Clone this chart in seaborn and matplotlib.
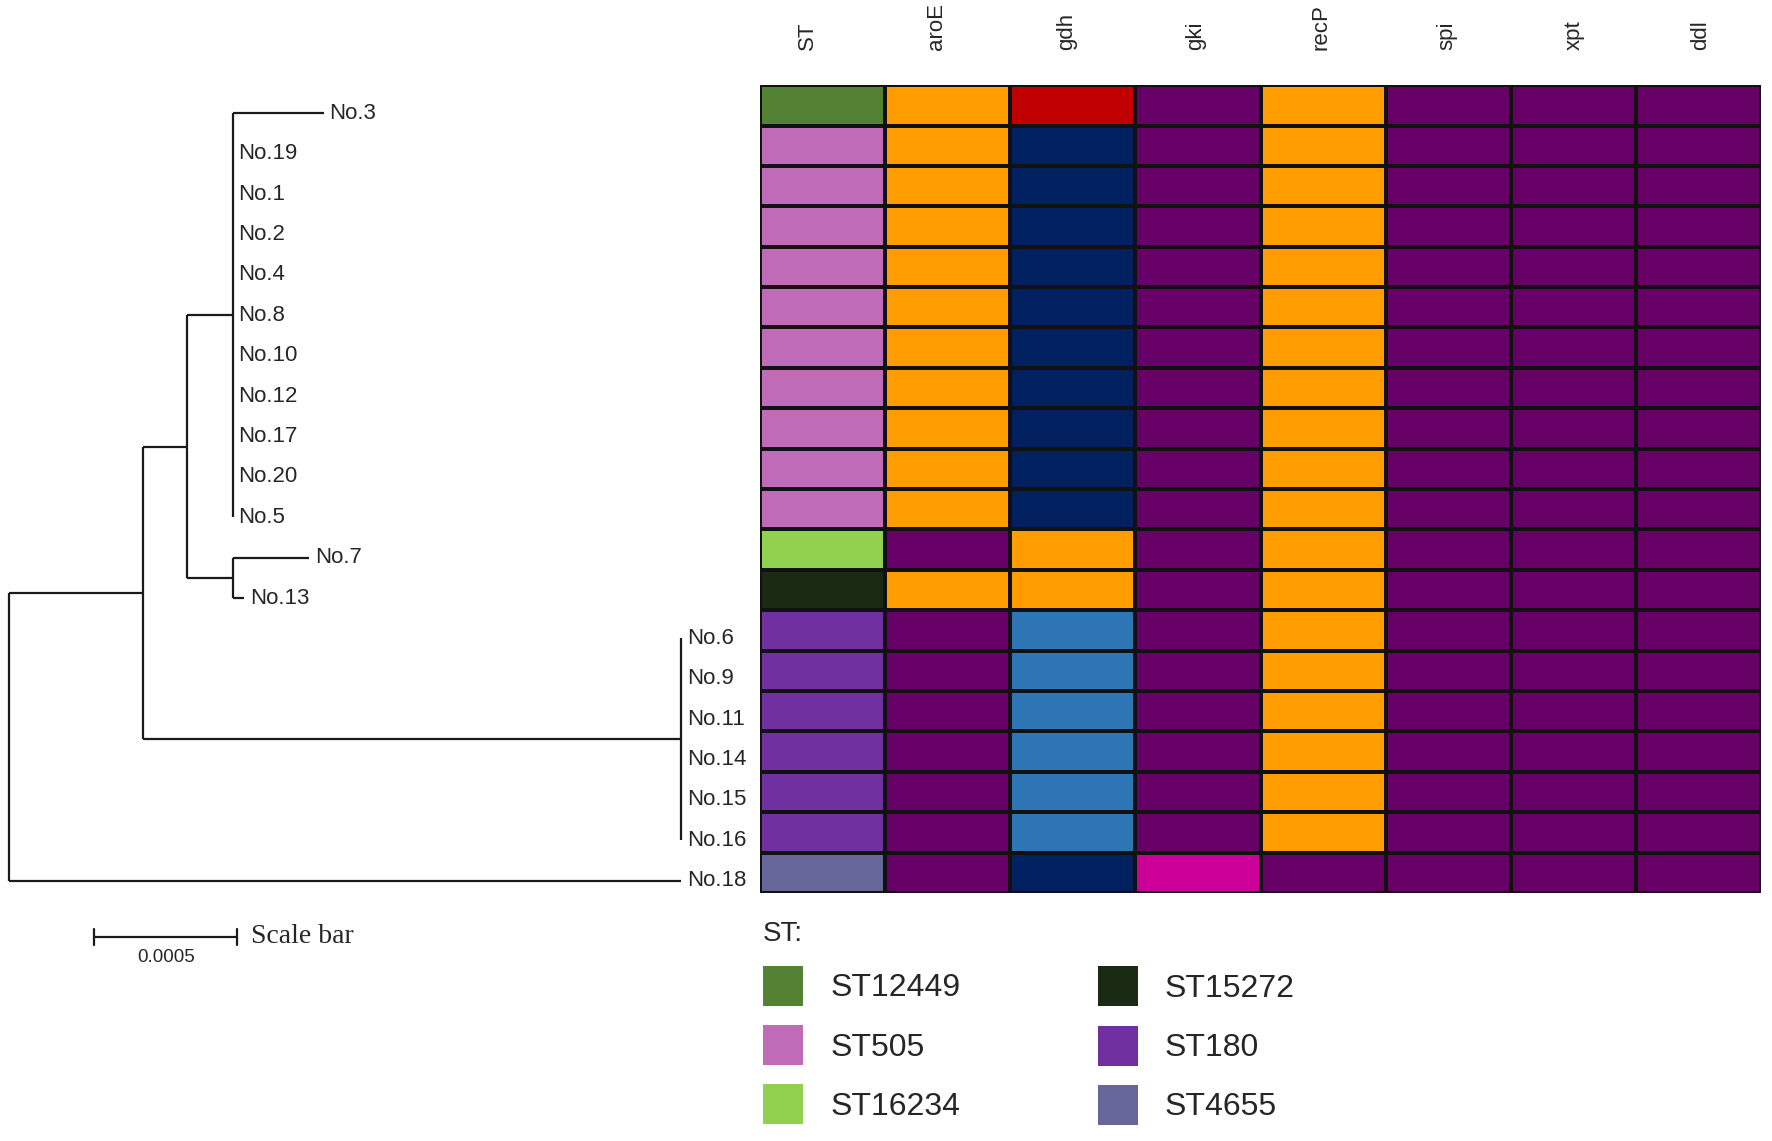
import matplotlib
matplotlib.use('Agg')
import matplotlib.pyplot as plt
from matplotlib.colors import ListedColormap
from matplotlib.patches import Patch
import seaborn as sns
import pandas as pd
import numpy as np

sns.set_style("white")
plt.rcParams['font.family'] = ['Liberation Sans', 'DejaVu Sans']

# ---- data ----
strains = ['No.3', 'No.19', 'No.1', 'No.2', 'No.4', 'No.8', 'No.10', 'No.12', 'No.17', 'No.20',
           'No.5', 'No.7', 'No.13', 'No.6', 'No.9', 'No.11', 'No.14', 'No.15', 'No.16', 'No.18']
genes = ['ST', 'aroE', 'gdh', 'gki', 'recP', 'spi', 'xpt', 'ddl']

st_type = ['ST12449', 'ST505', 'ST505', 'ST505', 'ST505', 'ST505', 'ST505', 'ST505', 'ST505', 'ST505',
           'ST505', 'ST16234', 'ST15272', 'ST180', 'ST180', 'ST180', 'ST180', 'ST180', 'ST180', 'ST4655']
# allele colour keys: O orange, R red, N navy, P purple, B blue, M magenta
aroE = ['O', 'O', 'O', 'O', 'O', 'O', 'O', 'O', 'O', 'O', 'O', 'P', 'O', 'P', 'P', 'P', 'P', 'P', 'P', 'P']
gdh = ['R', 'N', 'N', 'N', 'N', 'N', 'N', 'N', 'N', 'N', 'N', 'O', 'O', 'B', 'B', 'B', 'B', 'B', 'B', 'N']
gki = ['P', 'P', 'P', 'P', 'P', 'P', 'P', 'P', 'P', 'P', 'P', 'P', 'P', 'P', 'P', 'P', 'P', 'P', 'P', 'M']
recP = ['O', 'O', 'O', 'O', 'O', 'O', 'O', 'O', 'O', 'O', 'O', 'O', 'O', 'O', 'O', 'O', 'O', 'O', 'O', 'P']
spi = ['P', 'P', 'P', 'P', 'P', 'P', 'P', 'P', 'P', 'P', 'P', 'P', 'P', 'P', 'P', 'P', 'P', 'P', 'P', 'P']
xpt = ['P', 'P', 'P', 'P', 'P', 'P', 'P', 'P', 'P', 'P', 'P', 'P', 'P', 'P', 'P', 'P', 'P', 'P', 'P', 'P']
ddl = ['P', 'P', 'P', 'P', 'P', 'P', 'P', 'P', 'P', 'P', 'P', 'P', 'P', 'P', 'P', 'P', 'P', 'P', 'P', 'P']

st_legend = ['ST12449', 'ST505', 'ST16234', 'ST15272', 'ST180', 'ST4655']
st_colors = ['#548235', '#BF6BB7', '#92D050', '#1B2A13', '#7030A0', '#666699']
allele_keys = ['O', 'R', 'N', 'P', 'B', 'M']
allele_colors = ['#FF9C00', '#C00000', '#002060', '#660066', '#2E75B6', '#CC0099']

# tree edges (parent, child, branch length)
tree_parent = ['root', 'root', 'A', 'A', 'B', 'B', 'C', 'C', 'C', 'C', 'C', 'C', 'C', 'C', 'C', 'C', 'C',
               'D', 'D', 'G6', 'G6', 'G6', 'G6', 'G6', 'G6']
tree_child = ['A', 'No.18', 'B', 'G6', 'C', 'D', 'No.3', 'No.19', 'No.1', 'No.2', 'No.4', 'No.8', 'No.10',
              'No.12', 'No.17', 'No.20', 'No.5', 'No.7', 'No.13', 'No.6', 'No.9', 'No.11', 'No.14',
              'No.15', 'No.16']
tree_length = [0.00047, 0.00236, 0.000155, 0.00189, 0.00016, 0.00016, 0.00032, 0, 0, 0, 0, 0, 0,
               0, 0, 0, 0, 0.00027, 0.00004, 0, 0, 0, 0, 0, 0]

# ---- figure ----
fig = plt.figure(figsize=(17.72, 11.41), dpi=100)
hm_left, hm_bottom, hm_w, hm_h = 0.4289, 0.2174, 0.565, 0.708

# heatmap
df = pd.DataFrame({'ST': st_type, 'aroE': aroE, 'gdh': gdh, 'gki': gki, 'recP': recP,
                   'spi': spi, 'xpt': xpt, 'ddl': ddl}, index=strains)[genes]
keys = st_legend + allele_keys
codes = df.apply(lambda s: s.map({k: i for i, k in enumerate(keys)}))
cmap = ListedColormap(st_colors + allele_colors)

ax_h = fig.add_axes([hm_left, hm_bottom, hm_w, hm_h])
sns.heatmap(codes, cmap=cmap, vmin=-0.5, vmax=len(keys) - 0.5, cbar=False,
            linewidths=1.5, linecolor='#111111', ax=ax_h)
ax_h.xaxis.tick_top()
# header labels sit a little off the column centres in the original
ax_h.set_xticks([0.38, 1.41, 2.45, 3.48, 4.48, 5.49, 6.51, 7.52])
ax_h.set_xticklabels(genes, rotation=90, fontsize=16)
ax_h.tick_params(axis='x', length=0, pad=25)
ax_h.set_yticks([])
ax_h.set_xlabel('')
ax_h.set_ylabel('')

# tree (slightly lower than the heatmap rows, as in the original)
shift = 8 / 1141
ax_t = fig.add_axes([0, hm_bottom - shift, hm_left, hm_h])
ax_t.set_xlim(-0.0000316, 0.002637)
ax_t.set_ylim(len(strains), 0)
ax_t.axis('off')

node_x = {'root': 0.0}
for p, c, l in zip(tree_parent, tree_child, tree_length):
    node_x[c] = node_x[p] + l

node_y = {s: i + 0.5 for i, s in enumerate(strains)}
def get_y(n):
    if n in node_y:
        return node_y[n]
    kids = [c for p, c in zip(tree_parent, tree_child) if p == n]
    ys = [get_y(k) for k in kids]
    node_y[n] = (min(ys) + max(ys)) / 2
    return node_y[n]
get_y('root')

lc = '#1a1a1a'
for n in set(tree_parent):
    kids = [c for p, c in zip(tree_parent, tree_child) if p == n]
    ys = [node_y[k] for k in kids]
    ax_t.plot([node_x[n], node_x[n]], [min(ys), max(ys)], color=lc, lw=1.6, solid_capstyle='butt')
for p, c in zip(tree_parent, tree_child):
    if node_x[c] > node_x[p]:
        ax_t.plot([node_x[p], node_x[c]], [node_y[c], node_y[c]], color=lc, lw=1.6, solid_capstyle='butt')

for s in strains:
    ax_t.text(node_x[s] + 0.00002, node_y[s], s, fontsize=16, va='center', ha='left')

# scale bar
sb_y = 20.89
ax_t.plot([0.0003, 0.0008], [sb_y, sb_y], color=lc, lw=1.6, clip_on=False)
ax_t.plot([0.0003, 0.0003], [sb_y - 0.2, sb_y + 0.2], color=lc, lw=1.6, clip_on=False)
ax_t.plot([0.0008, 0.0008], [sb_y - 0.2, sb_y + 0.2], color=lc, lw=1.6, clip_on=False)
ax_t.text(0.00055, sb_y + 0.51, '0.0005', fontsize=13.5, ha='center', va='center', clip_on=False)
ax_t.text(0.00085, sb_y, 'Scale bar', fontsize=20, ha='left', va='center',
          family=['Liberation Serif', 'DejaVu Serif'], clip_on=False)

# legend: two columns, the right one sits a touch lower
handles = [Patch(facecolor=c, edgecolor='none', label=l) for l, c in zip(st_legend, st_colors)]
leg_kw = dict(loc='upper left', frameon=False, fontsize=23, handlelength=1.25, handleheight=1.55,
              handletextpad=0.85, labelspacing=0.6, borderpad=0, borderaxespad=0)
leg1 = fig.legend(handles=handles[:3], bbox_to_anchor=(0.4306, 0.193), title='ST:',
                  title_fontsize=20, alignment='left', **leg_kw)
leg2 = fig.legend(handles=handles[3:], bbox_to_anchor=(0.6195, 0.153), **leg_kw)

fig.savefig('out.png', dpi=100)
